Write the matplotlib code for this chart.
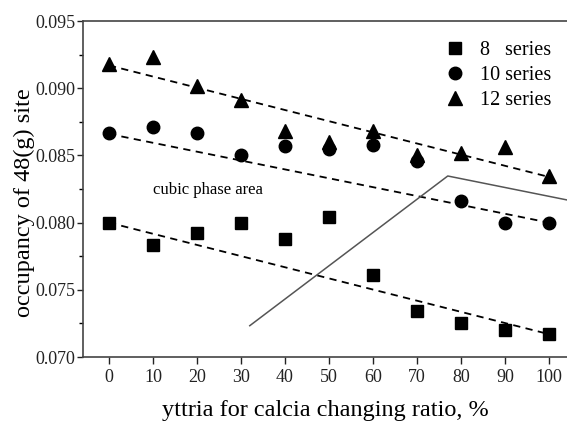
import numpy as np
import matplotlib.pyplot as plt
from matplotlib.ticker import MultipleLocator

plt.rcParams['font.family'] = ['Liberation Serif', 'DejaVu Serif']

ratio = [0, 10, 20, 30, 40, 50, 60, 70, 80, 90, 100]
occ_8 = [0.0800, 0.0783, 0.0792, 0.0800, 0.0788, 0.0804, 0.0761, 0.0734, 0.0725, 0.0720, 0.0717]
occ_10 = [0.08665, 0.0871, 0.0867, 0.0850, 0.0857, 0.0855, 0.0858, 0.0846, 0.0816, 0.0800, 0.0800]
occ_12 = [0.0918, 0.0923, 0.0902, 0.0891, 0.0868, 0.0860, 0.0868, 0.0850, 0.0852, 0.0856, 0.0835]

# trend lines (end points)
trend_x = [0, 100]
trend_8 = [0.0800, 0.0717]
trend_10 = [0.0866, 0.0800]
trend_12 = [0.0917, 0.0834]

# cubic phase boundary
bound_x = [32, 77, 110]
bound_y = [0.07233, 0.08347, 0.0813]

fig = plt.figure(figsize=(5.67, 4.21), dpi=100)
ax = fig.add_axes([0.1464, 0.152, 0.8536, 0.798])

ax.plot(trend_x, trend_8, 'k--', lw=1.3, dashes=(4, 3))
ax.plot(trend_x, trend_10, 'k--', lw=1.3, dashes=(4, 3))
ax.plot(trend_x, trend_12, 'k--', lw=1.3, dashes=(4, 3))
ax.plot(bound_x, bound_y, color='#555555', lw=1.1)

ax.plot(ratio, occ_8, 's', color='k', ms=9, ls='none', label='8   series')
ax.plot(ratio, occ_10, 'o', color='k', ms=9, ls='none', label='10 series')
ax.plot(ratio, occ_12, '^', color='k', ms=10, ls='none', label='12 series')

ax.text(10.0, 0.0824, 'cubic phase area', fontsize=12, ha='left', va='center')

ax.set_xlim(-5.9, 104.1)
ax.set_ylim(0.070, 0.095)
ax.set_xticks(ratio)
ax.yaxis.set_major_locator(MultipleLocator(0.005))
ax.yaxis.set_minor_locator(MultipleLocator(0.0025))
ax.yaxis.set_major_formatter(plt.FormatStrFormatter('%.3f'))
ax.tick_params(direction='out', labelsize=13, width=1, length=5, colors='#222222')
ax.tick_params(axis='y', length=4, pad=1.5)
ax.tick_params(which='minor', direction='out', length=3, width=1)
ax.spines['right'].set_visible(False)
for s in ['left', 'top', 'bottom']:
    ax.spines[s].set_linewidth(1.2)
    ax.spines[s].set_color('#444444')

ax.set_xlabel('yttria for calcia changing ratio, %', fontsize=17.5, labelpad=10)
ax.set_ylabel('occupancy of 48(g) site', fontsize=17.5, labelpad=0, y=0.46)

ax.legend(loc='upper right', frameon=False, fontsize=14.5, handletextpad=0.7,
          labelspacing=0.3, borderaxespad=0.4, handlelength=1.0,
          bbox_to_anchor=(1.0, 0.99))

fig.savefig('out.png', dpi=100)
